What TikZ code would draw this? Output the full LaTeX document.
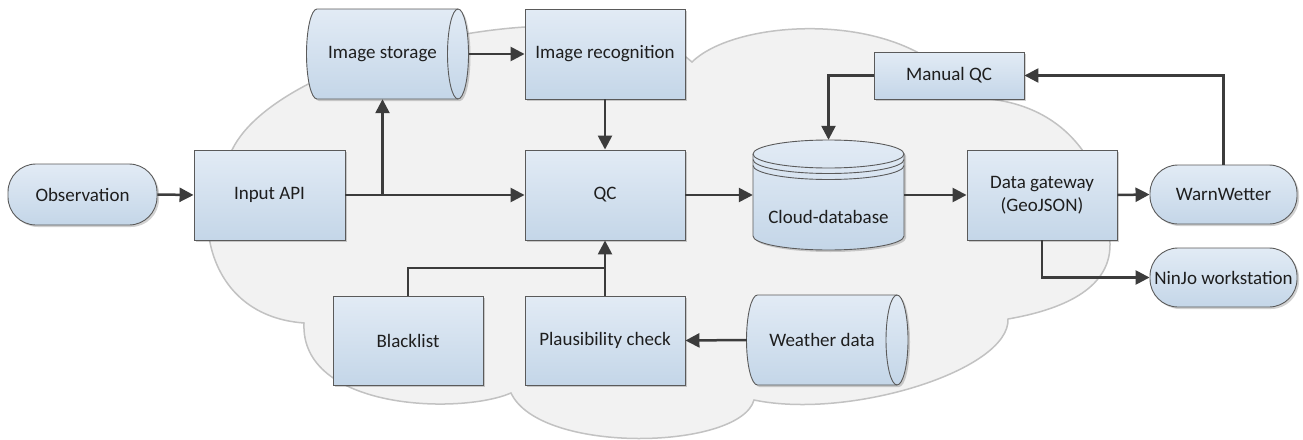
\documentclass[tikz,border=0pt]{standalone}
\usepackage{fontspec}
\setmainfont{Carlito}
\usetikzlibrary{arrows.meta,shadows,calc}
\definecolor{bordc}{HTML}{5A5A5A}
\definecolor{topc}{HTML}{E2EBF5}
\definecolor{botc}{HTML}{C4D6E8}
\definecolor{txtc}{HTML}{1E1E1E}
\definecolor{arrc}{HTML}{3C3C3C}
\definecolor{cloudfill}{HTML}{F2F2F2}
\definecolor{cloudline}{HTML}{C2C2C2}
\tikzset{
  lbl/.style={font=\fontsize{19}{22.5}\selectfont, text=txtc, align=center},
  shadowed/.style={drop shadow={shadow xshift=2pt,shadow yshift=-2pt,opacity=0.18,fill=black}},
  sbox/.style 2 args={lbl, rectangle, draw=bordc, line width=0.9pt, top color=topc, bottom color=botc,
    inner sep=0pt, minimum width=#1, minimum height=#2, shadowed},
  pill/.style 2 args={sbox={#1}{#2}, rounded corners=28pt},
  anchorbox/.style 2 args={lbl, rectangle, draw=none, inner sep=0pt, minimum width=#1, minimum height=#2},
  shapefill/.style={draw=bordc, line width=0.9pt, top color=topc, bottom color=botc},
  shapeshadow/.style={fill=black, opacity=0.18},
  edgeline/.style={draw=bordc, line width=0.9pt},
  arr/.style={draw=arrc, line width=2.5pt, -{Triangle[length=14pt,width=14pt]}},
  ln/.style={draw=arrc, line width=2.5pt},
  cloud/.style={draw=cloudline, fill=cloudfill, line width=1.5pt},
}
% horizontal cylinder: #1 left centre x, #2 right centre x, #3 top y, #4 bottom y, #5 x radius
\newcommand\mkHcyl[5]{%
  \pgfmathsetmacro\myRy{(#4-#3)/2}%
  \fill[shapeshadow, shift={(2,2)}] (#1,#3) -- (#2,#3)
     arc[start angle=-90,end angle=90,x radius=#5,y radius=\myRy] -- (#1,#4)
     arc[start angle=90,end angle=270,x radius=#5,y radius=\myRy] -- cycle;
  \path[shapefill] (#1,#3) -- (#2,#3)
     arc[start angle=-90,end angle=90,x radius=#5,y radius=\myRy] -- (#1,#4)
     arc[start angle=90,end angle=270,x radius=#5,y radius=\myRy] -- cycle;
  \draw[edgeline] (#2,#3) arc[start angle=270,end angle=90,x radius=#5,y radius=\myRy];
}
\begin{document}
\begin{tikzpicture}[x=1pt,y=-1pt]
\useasboundingbox (0,0) rectangle (1303,439);

% cloud
\path[cloud]
 (232,150) .. controls (280,50) and (600,-20) .. (692,62)
 .. controls (740,15) and (920,10) .. (965,98)
 .. controls (1060,96) and (1110,160) .. (1110,245)
 .. controls (1110,290) and (1060,310) .. (1008,319)
 .. controls (1010,370) and (850,420) .. (754,400)
 .. controls (740,450) and (540,455) .. (511,393)
 .. controls (460,415) and (300,410) .. (304,323)
 .. controls (195,315) and (190,190) .. (232,150) -- cycle;

% custom shapes
\mkHcyl{317}{458}{9}{99}{10.5}
\mkHcyl{757.5}{897}{295}{385}{11}

% database cylinder
\fill[shapeshadow, shift={(2,2)}] (753,154) -- (753,236)
   arc[start angle=180,end angle=0,x radius=75.5,y radius=14] -- (904,154)
   arc[start angle=0,end angle=-180,x radius=75.5,y radius=14] -- cycle;
\path[shapefill] (753,154) -- (753,236)
   arc[start angle=180,end angle=0,x radius=75.5,y radius=14] -- (904,154)
   arc[start angle=0,end angle=-180,x radius=75.5,y radius=14] -- cycle;
\draw[edgeline] (753,154) arc[start angle=180,end angle=0,x radius=75.5,y radius=14];
\draw[edgeline] (753,159.5) arc[start angle=180,end angle=0,x radius=75.5,y radius=14];
\draw[edgeline] (753,165.5) arc[start angle=180,end angle=0,x radius=75.5,y radius=14];

% nodes
\node[pill={149}{61}] (obs) at (82.5,194.5) {Observation};
\node[sbox={151}{90}] (api) at (269.5,195) {Input API};
\node[anchorbox={151}{90}] (imgsto) at (382.5,54) {Image storage};
\node[sbox={160}{90}] (imgrec) at (605,54) {Image recognition};
\node[sbox={160}{90}] (qc) at (605,195) {QC};
\node[sbox={150}{89}] (blk) at (408,340.5) {Blacklist};
\node[sbox={160}{89}] (plaus) at (605,340.5) {Plausibility check};
\node[anchorbox={150}{90}] (wdata) at (822,340) {Weather data};
\node[anchorbox={151}{110}] (cdb) at (828.5,195) {};
\node[lbl] (cdbtext) at (828.5,217) {Cloud-database};
\node[sbox={150}{47}] (mqc) at (949,75.5) {Manual QC};
\node[sbox={150}{90}] (gw) at (1042,195) {Data gateway\\(GeoJSON)};
\node[pill={147}{59}] (warn) at (1223.5,194.5) {WarnWetter};
\node[pill={147}{59}] (ninjo) at (1223.5,277.5) {NinJo workstation};

% connectors
\coordinate (br) at (imgsto.south |- api.east);
\coordinate (jn) at ($(plaus.north)!0.5!(qc.south)$);
\draw[arr] (obs.east) -- (api.west);
\draw[arr] (api.east) -- (qc.west);
\draw[arr] (br) -- (imgsto.south);
\draw[arr] ([xshift=10.5pt]imgsto.east) -- (imgrec.west);
\draw[arr] (imgrec.south) -- (qc.north);
\draw[arr] (qc.east) -- (cdb.west);
\draw[arr] (cdb.east) -- (gw.west);
\draw[arr] (gw.east) -- (warn.west);
\draw[arr] (warn.north) |- (mqc.east);
\draw[arr] (mqc.west) -| (cdb.north);
\draw[arr] (gw.south) |- (ninjo.west);
\draw[arr] (wdata.west) -- (plaus.east);
\draw[ln] (blk.north) |- (jn);
\draw[arr] (plaus.north) -- (qc.south);
\end{tikzpicture}
\end{document}
